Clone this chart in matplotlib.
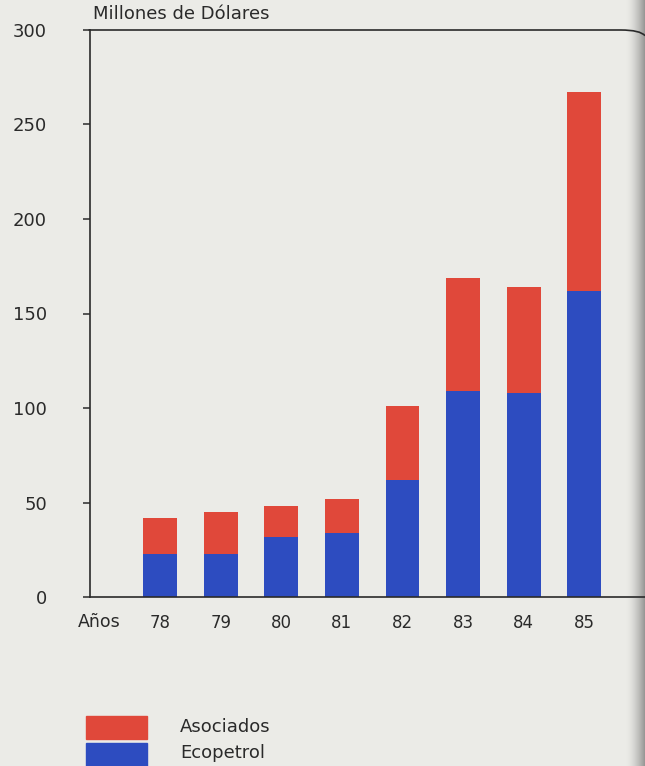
import numpy as np
import matplotlib
matplotlib.use("Agg")
import matplotlib.pyplot as plt
from matplotlib.patches import Rectangle, PathPatch
from matplotlib.path import Path

# Inversión en millones de dólares, por año
years = ["78", "79", "80", "81", "82", "83", "84", "85"]
ecopetrol = [23, 23, 32, 34, 62, 109, 108, 162]
totals = [42, 45, 48, 52, 101, 169, 164, 267]
asociados = [t - e for t, e in zip(totals, ecopetrol)]
yticks = [0, 50, 100, 150, 200, 250, 300]

RED = "#e0483a"
BLUE = "#2d4cc0"
PAPER = "#ebebe7"
INK = "#2a2a2a"
FONT = "DejaVu Sans"

W, H = 645, 766
fig = plt.figure(figsize=(W / 100, H / 100), dpi=100, facecolor=PAPER)

# page gutter shading at the right edge (drawn beneath the chart)
n = 64
t = np.linspace(0, 1, n) ** 1.6
paper = np.array([235, 235, 231]) / 255
dark = np.array([150, 150, 148]) / 255
img = (paper[None, :] * (1 - t[:, None]) + dark[None, :] * t[:, None])[None, :, :]
gax = fig.add_axes([626 / W, 0, 19 / W, 1])
gax.imshow(img, aspect="auto", extent=[0, 1, 0, 1])
gax.set_axis_off()
gax.set_zorder(0)

# axes box in pixel coordinates: left 90, right 645, top 30, bottom 597
ax = fig.add_axes([90 / W, 1 - 597 / H, (645 - 90) / W, (597 - 30) / H])
ax.set_zorder(1)
ax.patch.set_alpha(0)

x = np.arange(len(years))
bw = 0.56
ax.bar(x, ecopetrol, width=bw, color=BLUE, linewidth=0, zorder=2)
ax.bar(x, asociados, width=bw, bottom=ecopetrol, color=RED, linewidth=0, zorder=2)

ax.set_xlim(-1.155, 8.0)
ax.set_ylim(0, 300)

ax.spines["right"].set_visible(False)
ax.spines["top"].set_visible(False)
for s in ["left", "bottom"]:
    ax.spines[s].set_color(INK)
    ax.spines[s].set_linewidth(1.2)

# top frame line that curls down at the right end
verts = [(-1.18, 300), (7.6, 300), (7.92, 300), (8.0, 297)]
codes = [Path.MOVETO, Path.LINETO, Path.CURVE3, Path.CURVE3]
ax.add_patch(PathPatch(Path(verts, codes), fill=False, edgecolor=INK,
                       linewidth=1.2, clip_on=False, zorder=3))

ax.set_yticks(yticks)
ax.set_yticklabels([str(v) for v in yticks], fontsize=13, color=INK, family=FONT)
ax.tick_params(axis="y", direction="out", length=5, width=1.1, color=INK, pad=26)
ax.set_xticks(x)
ax.set_xticklabels(years, fontsize=12, color=INK, family=FONT)
ax.tick_params(axis="x", length=0, pad=12)

fig.text(78 / W, 1 - 622 / H, "Años", fontsize=12.5, color=INK,
         ha="left", va="center", family=FONT)
fig.text(93 / W, 1 - 14 / H, "Millones de Dólares", fontsize=13, color=INK,
         ha="left", va="center", family=FONT)

# legend
fig.patches.append(Rectangle((86 / W, 1 - 739 / H), 61 / W, 23 / H,
                             transform=fig.transFigure, color=RED))
fig.patches.append(Rectangle((86 / W, 1 - 768 / H), 61 / W, 25 / H,
                             transform=fig.transFigure, color=BLUE))
fig.text(180 / W, 1 - 727 / H, "Asociados", fontsize=13, color=INK,
         ha="left", va="center", family=FONT)
fig.text(180 / W, 1 - 753 / H, "Ecopetrol", fontsize=13, color=INK,
         ha="left", va="center", family=FONT)

fig.savefig("out.png", dpi=100, facecolor=PAPER)
